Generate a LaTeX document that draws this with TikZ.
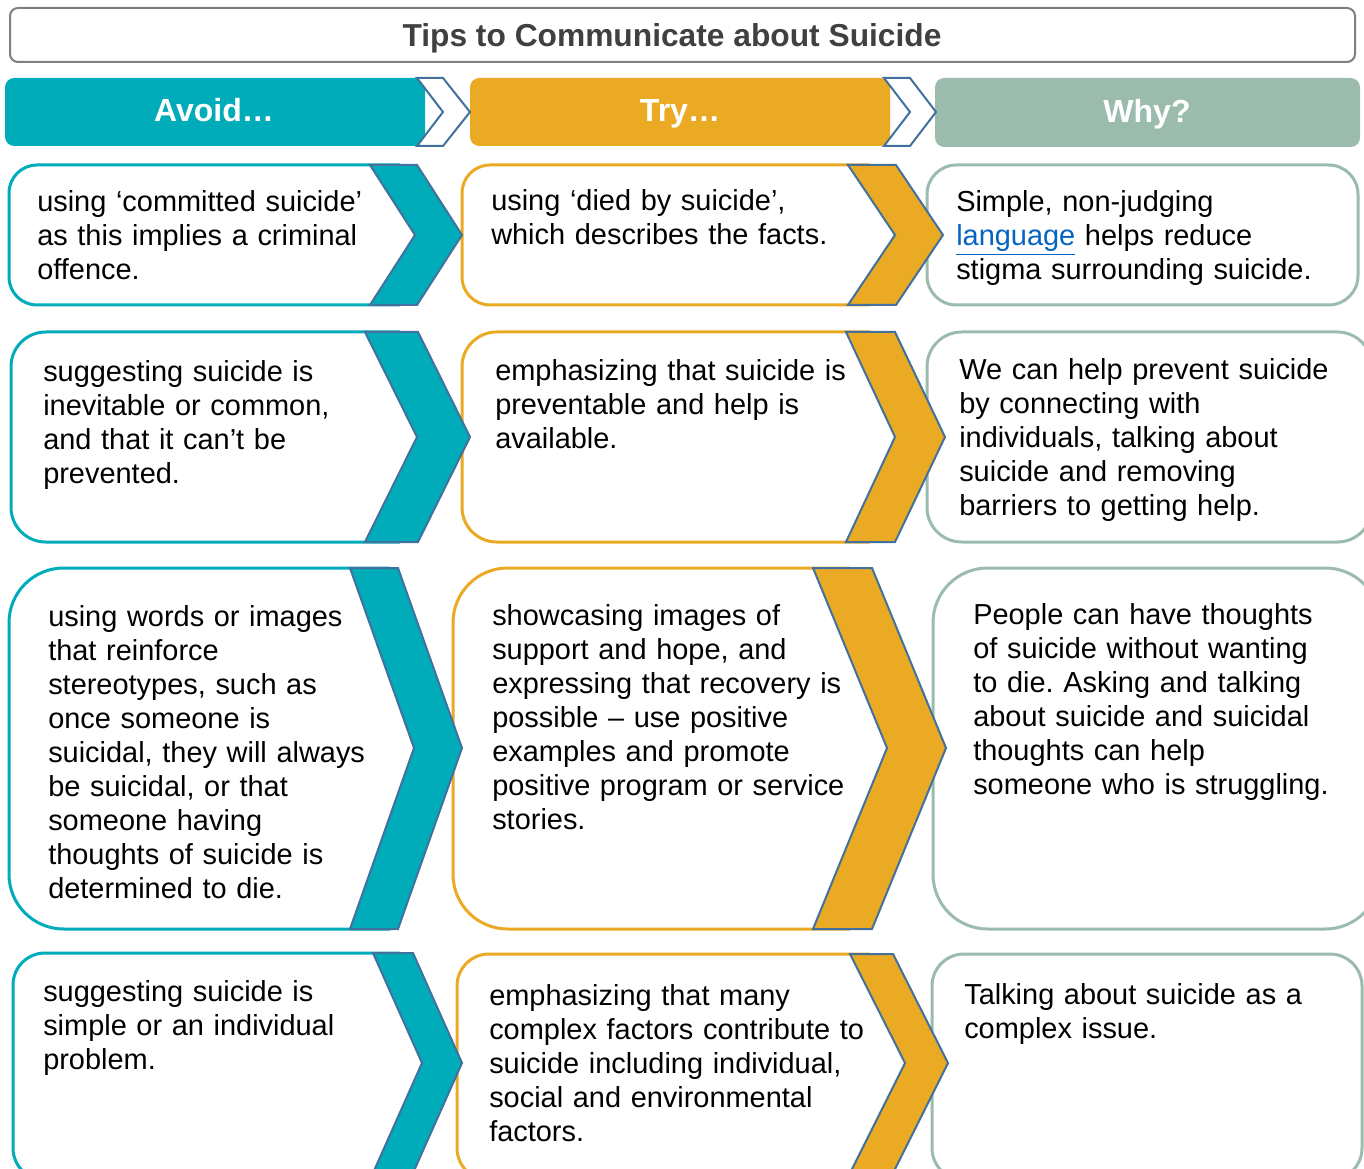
\documentclass[tikz,border=0pt]{standalone}
\usepackage{fontspec}
\setmainfont{Liberation Sans}
\usepackage{xcolor}
\usetikzlibrary{positioning}
\definecolor{avoidteal}{RGB}{0,172,186}
\definecolor{tryorange}{RGB}{234,170,36}
\definecolor{whysage}{RGB}{155,187,173}
\definecolor{chevblue}{RGB}{65,113,156}
\definecolor{titlegray}{RGB}{127,127,127}
\definecolor{titletext}{RGB}{64,64,64}
\definecolor{linkblue}{RGB}{5,99,193}
\frenchspacing

\begin{document}
\begin{tikzpicture}[x=0.75pt,y=-0.75pt,
    boxline/.style={line width=2.25pt},
    chevline/.style={draw=chevblue, line width=1.5pt},
    boxtext/.style={anchor=base west, inner sep=0pt, text width=300pt, align=left,
        font=\fontsize{21.7pt}{25.5pt}\selectfont},
    headtext/.style={anchor=base, inner sep=0pt, text=white,
        font=\fontsize{24pt}{28pt}\selectfont\bfseries}]
    \useasboundingbox (0,0) rectangle (1364,1169);
    \fill[white] (0,0) rectangle (1364,1169);
    \clip (0,0) rectangle (1364,1169);

    % title
    \draw[titlegray, line width=1.5pt, rounded corners=6pt] (10,8) rectangle (1355,62);
    \node[anchor=base, inner sep=0pt, text=titletext, font=\fontsize{23.8pt}{28pt}\selectfont\bfseries] (title) at (672,47) {Tips to Communicate about Suicide};

    % headers
    \fill[avoidteal, rounded corners=7pt] (5,78) rectangle (425,146);
    \fill[tryorange, rounded corners=7pt] (470,78) rectangle (890,146);
    \fill[whysage, rounded corners=7pt] (935,78) rectangle (1360,147);
    \filldraw[fill=white, chevline] (417,78) -- (443,78) -- (470,112) -- (443,146) -- (417,146) -- (443,112) -- cycle;
    \filldraw[fill=white, chevline] (884,78) -- (910,78) -- (936,112) -- (910,146) -- (884,146) -- (910,112) -- cycle;
    \node[headtext] (avoid) at (214,122) {Avoid…};
    \node[headtext] (try) at (680,122) {Try…};
    \node[headtext] (why) at (1147,123) {Why?};

    % row 1
    \draw[avoidteal, boxline, rounded corners=21pt] (400,165) -- (9,165) -- (9,305) -- (400,305);
    \draw[tryorange, boxline, rounded corners=21pt] (870,165) -- (462,165) -- (462,305) -- (870,305);
    \draw[whysage, boxline, rounded corners=22pt] (927,165) rectangle (1358,305);
    \filldraw[fill=avoidteal, chevline] (370,165) -- (417,165) -- (462,235) -- (417,305) -- (370,305) -- (415,235) -- cycle;
    \filldraw[fill=tryorange, chevline] (848,165) -- (896,165) -- (943,235) -- (896,305) -- (848,305) -- (895,235) -- cycle;
    \node[boxtext] (avoid1) at (37,212) {using ‘committed suicide’\\as this implies a criminal\\offence.};
    \node[boxtext] (try1) at (491,211) {using ‘died by suicide’,\\which describes the facts.};
    \node[boxtext] (why1) at (956,212) {Simple, non-judging\\{\color{linkblue}\underline{language}} helps reduce\\stigma surrounding suicide.};

    % row 2
    \draw[avoidteal, boxline, rounded corners=26pt] (400,332) -- (11,332) -- (11,542) -- (400,542);
    \draw[tryorange, boxline, rounded corners=26pt] (870,332) -- (462,332) -- (462,542) -- (870,542);
    \draw[whysage, boxline, rounded corners=26pt] (927,332) rectangle (1372,542);
    \filldraw[fill=avoidteal, chevline] (365,332) -- (418,332) -- (470,437) -- (418,542) -- (365,542) -- (417,437) -- cycle;
    \filldraw[fill=tryorange, chevline] (846,332) -- (895,332) -- (945,437) -- (895,542) -- (846,542) -- (895,437) -- cycle;
    \node[boxtext] (avoid2) at (43,382) {suggesting suicide is\\inevitable or common,\\and that it can’t be\\prevented.};
    \node[boxtext] (try2) at (495,381) {emphasizing that suicide is\\preventable and help is\\available.};
    \node[boxtext] (why2) at (959,380) {We can help prevent suicide\\by connecting with\\individuals, talking about\\suicide and removing\\barriers to getting help.};

    % row 3
    \draw[avoidteal, boxline, rounded corners=41pt] (390,568) -- (9,568) -- (9,929) -- (390,929);
    \draw[tryorange, boxline, rounded corners=41pt] (850,568) -- (453,568) -- (453,929) -- (850,929);
    \draw[whysage, boxline, rounded corners=41pt] (933,568) rectangle (1380,929);
    \filldraw[fill=avoidteal, chevline] (350,568) -- (398,568) -- (462,748) -- (398,929) -- (350,929) -- (414,748) -- cycle;
    \filldraw[fill=tryorange, chevline] (813,568) -- (872,568) -- (946,748) -- (872,929) -- (813,929) -- (887,748) -- cycle;
    \node[boxtext] (avoid3) at (48,626) {using words or images\\that reinforce\\stereotypes, such as\\once someone is\\suicidal, they will always\\be suicidal, or that\\someone having\\thoughts of suicide is\\determined to die.};
    \node[boxtext] (try3) at (492,625) {showcasing images of\\support and hope, and\\expressing that recovery is\\possible – use positive\\examples and promote\\positive program or service\\stories.};
    \node[boxtext] (why3) at (973,624) {People can have thoughts\\of suicide without wanting\\to die. Asking and talking\\about suicide and suicidal\\thoughts can help\\someone who is struggling.};

    % row 4
    \draw[avoidteal, boxline, rounded corners=24pt] (400,953) -- (13,953) -- (13,1180) -- (400,1180);
    \draw[tryorange, boxline, rounded corners=24pt] (870,954) -- (457,954) -- (457,1180) -- (870,1180);
    \draw[whysage, boxline, rounded corners=24pt] (932,954) rectangle (1362,1180);
    \filldraw[fill=avoidteal, chevline] (373,953) -- (413,953) -- (462,1063) -- (413,1173) -- (373,1173) -- (422,1063) -- cycle;
    \filldraw[fill=tryorange, chevline] (850,954) -- (893,954) -- (948,1063) -- (893,1173) -- (850,1173) -- (905,1063) -- cycle;
    \node[boxtext] (avoid4) at (43,1001) {suggesting suicide is\\simple or an individual\\problem.};
    \node[boxtext] (try4) at (489,1005) {emphasizing that many\\complex factors contribute to\\suicide including individual,\\social and environmental\\factors.};
    \node[boxtext] (why4) at (964,1004) {Talking about suicide as a\\complex issue.};
\end{tikzpicture}
\end{document}
